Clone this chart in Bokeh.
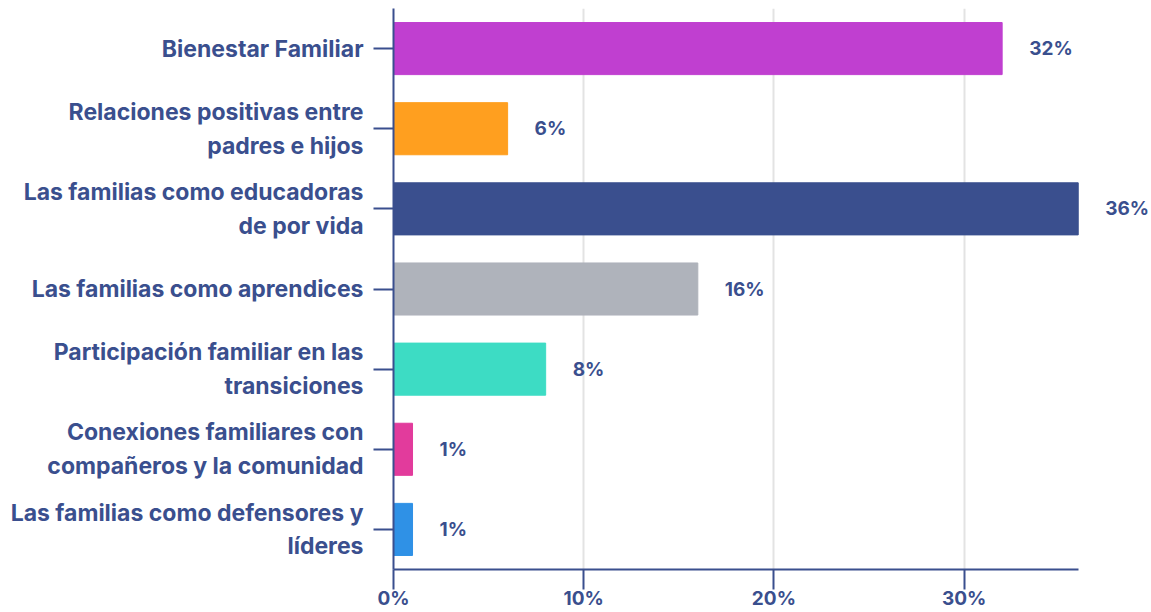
from bokeh.plotting import figure
from bokeh.models import ColumnDataSource, Range1d, FixedTicker, CustomJSTickFormatter
from bokeh.embed import file_html
from bokeh.resources import INLINE
from bokeh.core.properties import value

categories = [
    "Bienestar Familiar",
    "Relaciones positivas entre\npadres e hijos",
    "Las familias como educadoras\nde por vida",
    "Las familias como aprendices",
    "Participación familiar en las\ntransiciones",
    "Conexiones familiares con\ncompañeros y la comunidad",
    "Las familias como defensores y\nlíderes",
]
values = [32, 6, 36, 16, 8, 1, 1]
colors = ["#c03fd0", "#ff9f1f", "#3a4f8e", "#afb3bb", "#3ddcc4", "#e23b9c", "#2f91e6"]
value_labels = [f"{v}%" for v in values]
x_ticks = [0, 10, 20, 30]
x_max = 36

TXT = "#3a4f8e"
FONT = "Inter"

n = len(categories)
ypos = [n - 1 - i for i in range(n)]  # first category on top

src = ColumnDataSource(dict(y=ypos, val=values, color=colors, lab=value_labels))

p = figure(
    width=1150, height=612,
    y_range=Range1d(-0.5, n - 0.5),
    x_range=Range1d(0, 39.8),
    output_backend="svg", toolbar_location=None,
    min_border_left=393, min_border_top=8, min_border_right=0, min_border_bottom=0,
)
p.outline_line_color = None

p.hbar(y="y", right="val", left=0, height=0.65, color="color", source=src)
p.text(x="val", y="y", text="lab", source=src, x_offset=27,
       text_align="left", text_baseline="middle",
       text_font=value(FONT), text_font_style="bold", text_font_size="19px",
       text_color=TXT)

p.xaxis.ticker = FixedTicker(ticks=x_ticks)
p.xaxis.bounds = (0, x_max)
p.xaxis.formatter = CustomJSTickFormatter(code="return tick + '%';")
p.yaxis.ticker = FixedTicker(ticks=ypos)
p.yaxis.major_label_overrides = {yy: c for yy, c in zip(ypos, categories)}
p.xgrid.ticker = FixedTicker(ticks=[10, 20, 30])
p.xgrid.grid_line_color = "#e3e3e3"
p.xgrid.grid_line_width = 2
p.ygrid.grid_line_color = None

for ax in (p.xaxis, p.yaxis):
    ax.axis_line_color = TXT
    ax.axis_line_width = 2
    ax.major_tick_line_color = TXT
    ax.major_tick_line_width = 2
    ax.minor_tick_line_color = None
    ax.major_label_text_color = TXT
    ax.major_label_text_font = FONT
    ax.major_label_text_font_style = "bold"

p.xaxis.major_label_text_font_size = "19px"
p.yaxis.major_label_text_font_size = "23px"
p.xaxis.major_tick_out = 20
p.xaxis.major_tick_in = 0
p.xaxis.major_label_standoff = -3
p.yaxis.major_tick_out = 20
p.yaxis.major_tick_in = 0
p.yaxis.major_label_standoff = 10

open("out.html", "w").write(file_html(p, INLINE))
